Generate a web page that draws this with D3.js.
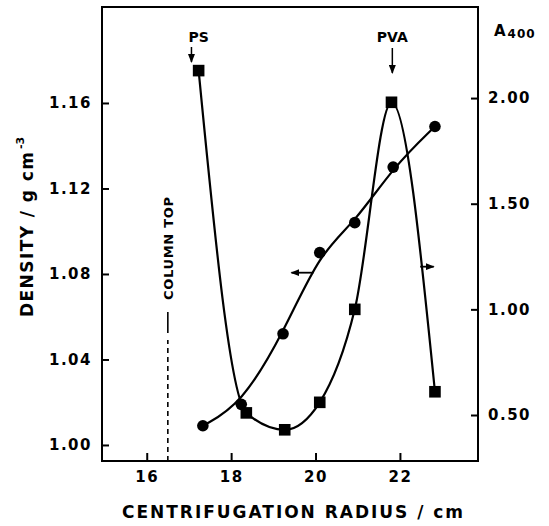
<!DOCTYPE html>
<html>
<head>
<meta charset="utf-8">
<script src="https://cdn.jsdelivr.net/npm/d3@7"></script>
<style>
    body { margin: 0; background: #fff; }
    text { font-family: "DejaVu Sans", sans-serif; font-weight: bold; fill: #000; }
</style>
</head>
<body>
<div id="chart"></div>
<script>
// density gradient (circles, left axis)
var densityRadius = [17.33, 18.24, 19.23, 20.10, 20.93, 21.84, 22.83];
var density = [1.009, 1.019, 1.052, 1.090, 1.104, 1.130, 1.149];

// absorbance at 400 nm (squares, right axis)
var absRadius = [17.23, 18.36, 19.27, 20.10, 20.93, 21.80, 22.83];
var absorbance = [2.13, 0.51, 0.43, 0.56, 1.00, 1.98, 0.61];

// tick labels
var xTicks = [16, 18, 20, 22];
var densityTicks = [1.00, 1.04, 1.08, 1.12, 1.16];
var absTicks = [0.50, 1.00, 1.50, 2.00];

var columnTop = 16.5;

function init() {
    var w = 549;
    var h = 526;

    var left = 102, right = 478, top = 7, bottom = 461;

    var circles = densityRadius.map(function (r, i) {
        return { r: r, v: density[i] };
    });
    var squares = absRadius.map(function (r, i) {
        return { r: r, v: absorbance[i] };
    });

    var xScale = d3.scaleLinear()
        .domain([14.94, 23.85])
        .range([left, right]);

    var yDensity = d3.scaleLinear()
        .domain([0.9925, 1.2049])
        .range([bottom, top]);

    var yAbs = d3.scaleLinear()
        .domain([0.2823, 2.431])
        .range([bottom, top]);

    var svg = d3.select("#chart")
        .append("svg")
        .attr("width", w)
        .attr("height", h);

    svg.append("defs")
        .append("marker")
        .attr("id", "head")
        .attr("markerUnits", "userSpaceOnUse")
        .attr("markerWidth", 9)
        .attr("markerHeight", 7)
        .attr("refX", 8)
        .attr("refY", 3.5)
        .attr("orient", "auto")
        .append("path")
        .attr("d", "M0,0 L9,3.5 L0,7 Z")
        .attr("fill", "#000");

    // axes, ticks point inward
    var xAxis = d3.axisBottom(xScale)
        .tickValues(xTicks)
        .tickSizeInner(-8)
        .tickSizeOuter(0)
        .tickPadding(10)
        .tickFormat(d3.format("d"));

    var yAxis = d3.axisLeft(yDensity)
        .tickValues(densityTicks)
        .tickSizeInner(-7)
        .tickSizeOuter(0)
        .tickPadding(10)
        .tickFormat(d3.format(".2f"));

    var yAxis2 = d3.axisRight(yAbs)
        .tickValues(absTicks)
        .tickSizeInner(-7)
        .tickSizeOuter(0)
        .tickPadding(10)
        .tickFormat(d3.format(".2f"));

    var gx = svg.append("g")
        .attr("transform", "translate(0," + bottom + ")")
        .call(xAxis);

    var gy = svg.append("g")
        .attr("transform", "translate(" + left + ",0)")
        .call(yAxis);

    var gy2 = svg.append("g")
        .attr("transform", "translate(" + right + ",0)")
        .call(yAxis2);

    [gx, gy, gy2].forEach(function (g) {
        g.select(".domain").remove();
        g.selectAll(".tick line").attr("stroke", "#000").attr("stroke-width", 2);
        g.selectAll(".tick text")
            .style("font-size", "15px")
            .style("letter-spacing", "1.5px");
    });

    // frame
    svg.append("rect")
        .attr("x", left)
        .attr("y", top)
        .attr("width", right - left)
        .attr("height", bottom - top)
        .attr("fill", "none")
        .attr("stroke", "#000")
        .attr("stroke-width", 2);

    // column top marker
    svg.append("line")
        .attr("x1", xScale(columnTop)).attr("x2", xScale(columnTop))
        .attr("y1", bottom).attr("y2", 340)
        .attr("stroke", "#000")
        .attr("stroke-width", 1.6)
        .attr("stroke-dasharray", "5,4");

    svg.append("line")
        .attr("x1", xScale(columnTop)).attr("x2", xScale(columnTop))
        .attr("y1", 333).attr("y2", 312)
        .attr("stroke", "#000")
        .attr("stroke-width", 1.6);

    svg.append("text")
        .attr("transform", "translate(" + (xScale(columnTop) + 5) + ",300) rotate(-90)")
        .attr("text-anchor", "start")
        .attr("textLength", 103)
        .attr("lengthAdjust", "spacing")
        .style("font-size", "13px")
        .text("COLUMN TOP");

    // curves
    var densityLine = d3.line()
        .x(function (d) { return xScale(d.r); })
        .y(function (d) { return yDensity(d.v); })
        .curve(d3.curveBasis);

    var absLine = d3.line()
        .x(function (d) { return xScale(d.r); })
        .y(function (d) { return yAbs(d.v); })
        .curve(d3.curveMonotoneX);

    svg.append("path")
        .datum(squares)
        .attr("d", absLine)
        .attr("fill", "none")
        .attr("stroke", "#000")
        .attr("stroke-width", 2.2);

    svg.append("path")
        .datum(circles)
        .attr("d", densityLine)
        .attr("fill", "none")
        .attr("stroke", "#000")
        .attr("stroke-width", 2.2);

    svg.selectAll("circle.pt")
        .data(circles)
        .enter()
        .append("circle")
        .attr("class", "pt")
        .attr("cx", function (d) { return xScale(d.r); })
        .attr("cy", function (d) { return yDensity(d.v); })
        .attr("r", 5.8)
        .attr("fill", "#000");

    svg.selectAll("rect.pt")
        .data(squares)
        .enter()
        .append("rect")
        .attr("class", "pt")
        .attr("x", function (d) { return xScale(d.r) - 5.8; })
        .attr("y", function (d) { return yAbs(d.v) - 5.8; })
        .attr("width", 11.6)
        .attr("height", 11.6)
        .attr("fill", "#000");

    // direction arrows (which axis each curve belongs to)
    svg.append("line")
        .attr("x1", xScale(19.95)).attr("x2", xScale(19.43))
        .attr("y1", yDensity(1.0806)).attr("y2", yDensity(1.0806))
        .attr("stroke", "#000")
        .attr("stroke-width", 1.8)
        .attr("marker-end", "url(#head)");

    svg.append("line")
        .attr("x1", xScale(22.48)).attr("x2", xScale(22.80))
        .attr("y1", yAbs(1.202)).attr("y2", yAbs(1.202))
        .attr("stroke", "#000")
        .attr("stroke-width", 1.8)
        .attr("marker-end", "url(#head)");

    // peak labels
    svg.append("text")
        .attr("x", xScale(17.23))
        .attr("y", 42)
        .attr("text-anchor", "middle")
        .style("font-size", "14px")
        .text("PS");

    svg.append("line")
        .attr("x1", xScale(17.06)).attr("x2", xScale(17.06))
        .attr("y1", 47).attr("y2", 62)
        .attr("stroke", "#000")
        .attr("stroke-width", 1.5)
        .attr("marker-end", "url(#head)");

    svg.append("text")
        .attr("x", xScale(21.82))
        .attr("y", 42)
        .attr("text-anchor", "middle")
        .style("font-size", "14px")
        .text("PVA");

    svg.append("line")
        .attr("x1", xScale(21.82)).attr("x2", xScale(21.82))
        .attr("y1", 48).attr("y2", 73)
        .attr("stroke", "#000")
        .attr("stroke-width", 1.5)
        .attr("marker-end", "url(#head)");

    // right axis title
    var a400 = svg.append("text")
        .attr("x", 494)
        .attr("y", 36)
        .style("font-size", "15px");
    a400.append("tspan").text("A");
    a400.append("tspan")
        .attr("dx", 2)
        .attr("dy", 2)
        .style("font-size", "12px")
        .style("letter-spacing", "1px")
        .text("400");

    // x axis title
    svg.append("text")
        .attr("x", 122)
        .attr("y", 518)
        .attr("textLength", 341)
        .attr("lengthAdjust", "spacing")
        .style("font-size", "17px")
        .text("CENTRIFUGATION RADIUS / cm");

    // y axis title
    var yTitle = svg.append("g")
        .attr("transform", "translate(25,225) rotate(-90)");

    yTitle.append("text")
        .attr("x", -92)
        .attr("y", 8)
        .attr("textLength", 165)
        .attr("lengthAdjust", "spacing")
        .style("font-size", "17px")
        .text("DENSITY / g cm");

    yTitle.append("text")
        .attr("x", 76)
        .attr("y", -1)
        .style("font-size", "11px")
        .text("-3");
}
window.onload = init;
</script>
</body>
</html>
